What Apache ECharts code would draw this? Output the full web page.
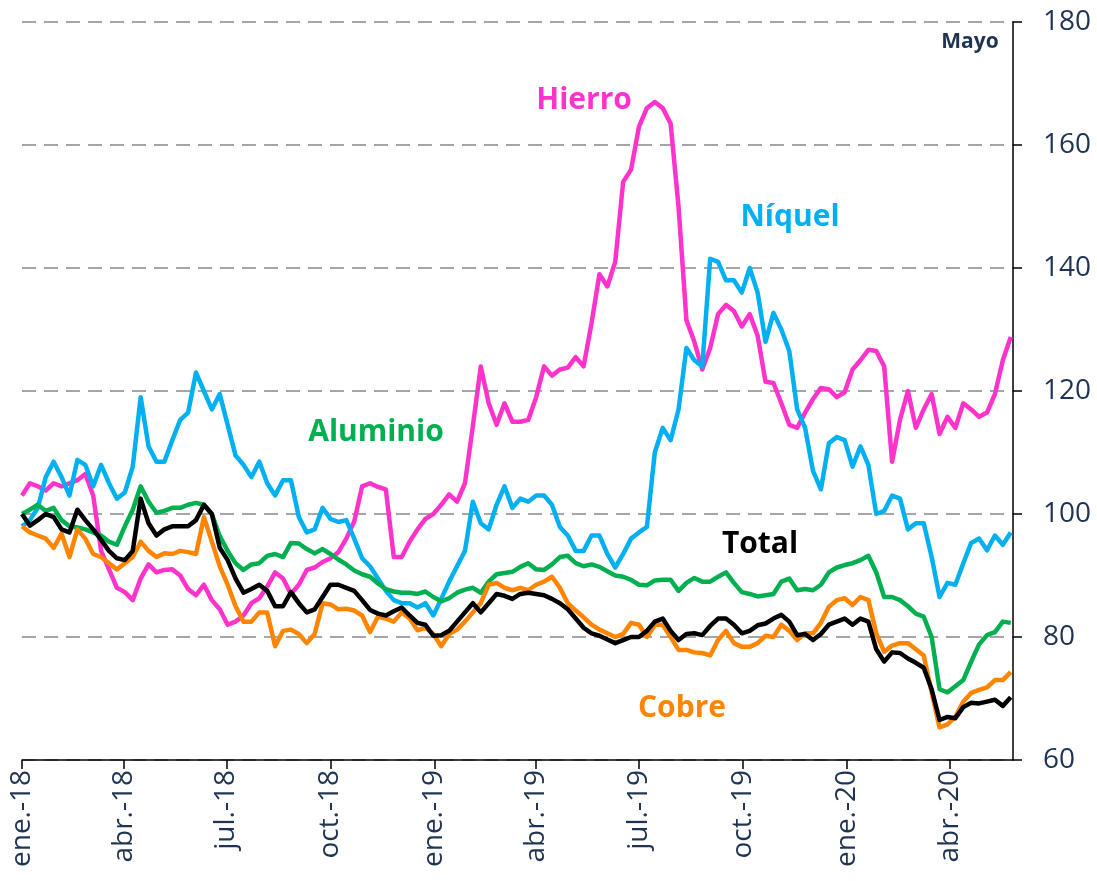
<!DOCTYPE html>
<html>
<head>
<meta charset="utf-8">
<script src="https://cdn.jsdelivr.net/npm/echarts@6/dist/echarts.min.js"></script>
<style>
  html, body { margin: 0; padding: 0; background: #fff; }
  #chart { width: 1097px; height: 881px; }
</style>
</head>
<body>
<div id="chart"></div>
<script>
// índices de precios de metales, base ene-18 = 100, datos semanales
const startDate = '2018-01-01';
const endDate = '2020-05-27';
const tickDates = ['2018-01-01', '2018-04-01', '2018-07-01', '2018-10-01', '2019-01-01',
  '2019-04-01', '2019-07-01', '2019-10-01', '2020-01-01', '2020-04-01'];
const tickLabels = ['ene.-18', 'abr.-18', 'jul.-18', 'oct.-18', 'ene.-19',
  'abr.-19', 'jul.-19', 'oct.-19', 'ene.-20', 'abr.-20'];

const hierro = [
  103, 105, 104.5, 103.8, 105, 104.5, 105, 105.5, 106.5, 103,
  94, 91, 88, 87.3, 86, 89.5, 91.8, 90.5, 90.9, 91,
  90, 87.8, 86.8, 88.5, 86, 84.5, 82, 82.5, 83.5, 85.5,
  86.3, 88.2, 90.5, 89.5, 87, 88.5, 90.9, 91.3, 92.2, 92.8,
  93.8, 96, 98.8, 104.5, 105, 104.4, 104, 93, 93, 95.5,
  97.5, 99.2, 100, 101.5, 103.2, 102, 105, 114.3, 124, 118,
  114.5, 118, 115, 115, 115.3, 119, 124, 122.5, 123.5, 123.8,
  125.5, 124, 131, 139, 137, 141, 154, 156, 163, 166,
  167, 166, 163.5, 150, 131.5, 128, 123.5, 127, 132.5, 134,
  133, 130.5, 132.5, 129, 121.5, 121.3, 118, 114.5, 114, 116.5,
  118.7, 120.5, 120.3, 119, 119.8, 123.5, 125, 126.7, 126.5, 124,
  108.5, 115.3, 120, 114, 117, 119.5, 113, 115.8, 114, 118,
  117, 115.8, 116.5, 119.5, 125, 128.8
];
const niquel = [
  98, 99, 101, 106, 108.5, 106, 103, 108.8, 108, 104.5,
  108, 105, 102.5, 103.5, 107.7, 119, 111, 108.5, 108.5, 112,
  115.3, 116.5, 123, 120, 117, 119.5, 114.5, 109.5, 108, 106,
  108.5, 105, 103, 105.5, 105.5, 99.5, 97, 97.5, 101, 99.2,
  98.7, 99, 96, 92.8, 91.5, 89.5, 87.5, 86, 85.5, 85.5,
  84.8, 85.5, 83.5, 86.2, 89, 91.5, 94, 102, 98.5, 97.5,
  101.5, 104.5, 101, 102.5, 102, 103, 103, 101.5, 97.9, 96.5,
  94, 94, 96.5, 96.5, 93.5, 91.3, 93.5, 96, 97, 97.9,
  110, 114, 112, 117, 127, 125, 124, 141.5, 141, 138,
  138, 136, 140, 136, 128, 132.7, 130, 126.5, 117, 114,
  107, 104, 111.5, 112.5, 112, 107.7, 111, 108, 100, 100.5,
  103, 102.5, 97.5, 98.5, 98.5, 93, 86.5, 88.8, 88.5, 92,
  95.3, 96, 94.1, 96.5, 95, 97
];
const aluminio = [
  100, 100.7, 101.5, 100.5, 101, 99, 98, 97.8, 97.5, 97,
  96.5, 95.5, 95, 98, 100.7, 104.5, 102, 100.2, 100.5, 101,
  101, 101.5, 101.8, 101.5, 100, 96.4, 94, 92, 90.9, 91.8,
  92, 93.2, 93.5, 93, 95.3, 95.2, 94.3, 93.6, 94.3, 93.5,
  92.6, 91.8, 90.8, 90.2, 89.8, 88.7, 87.8, 87.4, 87.2, 87.2,
  87, 87.4, 86.5, 85.8, 86.3, 87.2, 87.7, 88, 87.2, 89,
  90.2, 90.4, 90.6, 91.4, 92, 91, 90.9, 91.8, 93, 93.2,
  92, 91.5, 91.8, 91.4, 90.7, 90, 89.8, 89.3, 88.5, 88.4,
  89.2, 89.3, 89.3, 87.5, 88.8, 89.6, 89, 89, 89.8, 90.5,
  88.8, 87.3, 87, 86.6, 86.8, 87, 89, 89.5, 87.6, 87.8,
  87.6, 88.5, 90.5, 91.3, 91.7, 92, 92.5, 93.2, 90.5, 86.5,
  86.5, 86, 85, 83.8, 83.3, 80, 71.5, 71, 72, 73,
  76, 78.8, 80.3, 80.8, 82.5, 82.3
];
const cobre = [
  98, 97, 96.5, 96, 94.5, 96.8, 93, 97.5, 96, 93.5,
  93, 92, 91, 92, 93, 95.5, 94, 93, 93.6, 93.5,
  94, 93.8, 93.5, 99.5, 95.5, 91.5, 88.5, 85, 82.5, 82.5,
  84, 84, 78.5, 81, 81.2, 80.5, 79, 80.5, 85.5, 85.3,
  84.5, 84.6, 84.3, 83.5, 80.8, 83.3, 83, 82.5, 84, 83,
  81.1, 81.5, 80.5, 78.5, 80.5, 81.2, 82.5, 84, 85.5, 88.5,
  88.8, 88, 87.6, 88, 87.6, 88.5, 89, 89.8, 88, 85.5,
  84.3, 83.2, 82, 81.2, 80.6, 80, 80.5, 82.3, 82, 80,
  82, 82, 80, 77.9, 77.9, 77.5, 77.4, 77, 79.5, 81,
  79, 78.4, 78.4, 79, 80.2, 80, 82, 81, 79.5, 80.6,
  80.6, 82.3, 84.9, 86, 86.3, 85.2, 86.5, 86, 80.6, 77.6,
  78.6, 79, 79, 78, 77, 71, 65.3, 65.8, 67, 69.5,
  70.9, 71.4, 71.8, 73, 73, 74.3
];
const total = [
  100, 98.1, 99, 100, 99.5, 97.5, 97, 100.7, 99, 97.5,
  95.8, 94, 92.8, 92.5, 94, 102.5, 98.5, 96.5, 97.5, 98,
  98, 98, 99, 101.5, 100, 94.5, 92.5, 89.5, 87.2, 87.8,
  88.5, 87.5, 85, 85, 87.3, 85.5, 84, 84.5, 86.5, 88.5,
  88.5, 88, 87.5, 86, 84.4, 83.8, 83.5, 84.2, 84.8, 83.5,
  82.3, 82, 80.2, 80.3, 81, 82.5, 84, 85.5, 84, 85.5,
  87, 86.7, 86.2, 87, 87.2, 87, 86.8, 86.2, 85.5, 84.5,
  83, 81.5, 80.6, 80.2, 79.6, 79, 79.5, 80, 80, 81,
  82.5, 83, 81, 79.5, 80.5, 80.6, 80.3, 81.8, 83, 83,
  82, 80.6, 81, 81.9, 82.2, 83, 83.6, 82.5, 80.3, 80.5,
  79.5, 80.5, 82, 82.5, 83, 82, 83, 82.5, 78, 76,
  77.5, 77.4, 76.5, 75.8, 75, 71.5, 66.5, 67, 66.8, 68.6,
  69.3, 69.2, 69.5, 69.8, 68.8, 70.2
];

const DAY = 24 * 3600 * 1000;
function ts(s) {
  const p = s.split('-');
  return Date.UTC(+p[0], +p[1] - 1, +p[2]);
}
const t0 = ts(startDate);
const weeks = hierro.map(function (v, i) { return t0 + i * 7 * DAY; });
const tickTs = tickDates.map(ts);

function pairs(arr) {
  return arr.map(function (v, i) { return [weeks[i], v]; });
}

const textColor = '#1f3352';
const font = '"Open Sans", "Noto Sans", sans-serif';

const chart = echarts.init(document.getElementById('chart'));

function line(name, data, color) {
  return {
    name: name,
    type: 'line',
    data: pairs(data),
    showSymbol: false,
    symbol: 'none',
    lineStyle: { color: color, width: 4.5, join: 'round' },
    itemStyle: { color: color },
    animation: false
  };
}

const option = {
  backgroundColor: '#ffffff',
  animation: false,
  grid: { left: 22, right: 84, top: 22, bottom: 121 },
  xAxis: {
    type: 'value',
    min: t0,
    max: ts(endDate),
    axisLine: { show: true, lineStyle: { color: '#000', width: 1.5 } },
    axisTick: {
      show: true, length: 9, inside: false,
      lineStyle: { color: '#000', width: 1.5 },
      customValues: tickTs
    },
    axisLabel: {
      show: true,
      rotate: 90,
      margin: 10,
      color: textColor,
      fontFamily: font,
      fontSize: 28,
      customValues: tickTs,
      formatter: function (val) {
        const i = tickTs.indexOf(val);
        return i >= 0 ? tickLabels[i] : '';
      }
    },
    splitLine: { show: false }
  },
  yAxis: {
    type: 'value',
    position: 'right',
    min: 60,
    max: 180,
    interval: 20,
    axisLine: { show: true, lineStyle: { color: '#000', width: 1.5 } },
    axisTick: { show: true, length: 9, lineStyle: { color: '#000', width: 1.5 } },
    axisLabel: {
      margin: 30,
      color: textColor,
      fontFamily: font,
      fontSize: 28
    },
    splitLine: {
      show: true,
      lineStyle: { color: '#a6a6a6', width: 2, type: [14, 8] }
    }
  },
  series: [
    line('Hierro', hierro, '#ff33cc'),
    line('Níquel', niquel, '#00b0f0'),
    line('Aluminio', aluminio, '#00b050'),
    line('Cobre', cobre, '#ff8400'),
    line('Total', total, '#000000')
  ],
  graphic: [
    { type: 'text', x: 584, y: 100, style: { text: 'Hierro', fill: '#ff33cc', font: 'bold 30px ' + font, align: 'center', verticalAlign: 'middle' } },
    { type: 'text', x: 790, y: 217, style: { text: 'Níquel', fill: '#00b0f0', font: 'bold 30px ' + font, align: 'center', verticalAlign: 'middle' } },
    { type: 'text', x: 376, y: 432, style: { text: 'Aluminio', fill: '#00b050', font: 'bold 30px ' + font, align: 'center', verticalAlign: 'middle' } },
    { type: 'text', x: 760, y: 544, style: { text: 'Total', fill: '#000000', font: 'bold 30px ' + font, align: 'center', verticalAlign: 'middle' } },
    { type: 'text', x: 682, y: 708, style: { text: 'Cobre', fill: '#ff8400', font: 'bold 30px ' + font, align: 'center', verticalAlign: 'middle' } },
    { type: 'text', x: 970, y: 42, style: { text: 'Mayo', fill: textColor, font: 'bold 21px ' + font, align: 'center', verticalAlign: 'middle' } }
  ]
};

chart.setOption(option);
</script>
</body>
</html>
